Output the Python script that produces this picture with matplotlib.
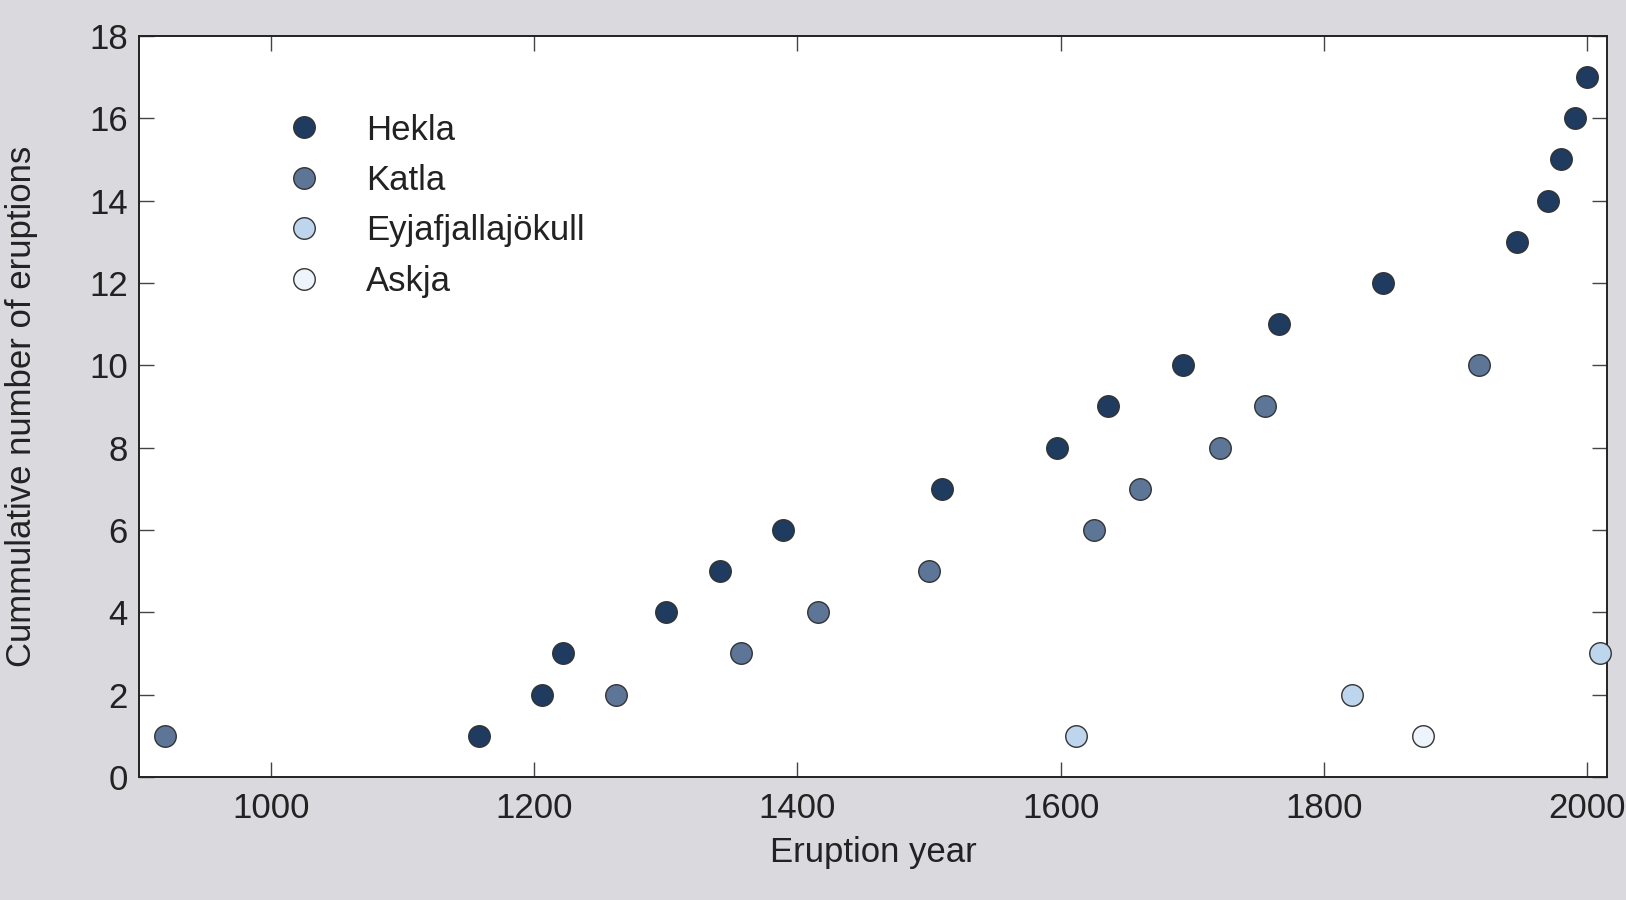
import matplotlib
matplotlib.use("Agg")
from matplotlib import pyplot as plt

hekla_years = [1158, 1206, 1222, 1300, 1341, 1389, 1510, 1597, 1636, 1693, 1766, 1845,
               1947, 1970, 1980, 1991, 2000]
katla_years = [920, 1262, 1357, 1416, 1500, 1625, 1660, 1721, 1755, 1918]
eyja_years = [1612, 1821, 2010]
askja_years = [1875]

series = [
    ('Hekla', hekla_years, '#1f3b60'),
    ('Katla', katla_years, '#5d7698'),
    ('Eyjafjallajökull', eyja_years, '#bed5ee'),
    ('Askja', askja_years, '#eef4fc'),
]

plt.rcParams['font.family'] = ['Liberation Sans', 'DejaVu Sans']
plt.rcParams['text.color'] = '#222222'
plt.rcParams['axes.labelcolor'] = '#222222'

fig = plt.figure(figsize=(16.26, 9), dpi=100, facecolor='#d9d9de')
ax = fig.add_axes([0.0855, 0.1367, 0.9028, 0.8233])
ax.set_facecolor('white')

for name, years, color in series:
    counts = list(range(1, len(years) + 1))
    ax.plot(years, counts, 'o', color=color, markersize=15.5, markeredgecolor='#333333',
            markeredgewidth=1.0, label=name, clip_on=False, zorder=3)

ax.set_xlim(900, 2015)
ax.set_ylim(0, 18)
ax.set_xticks([1000, 1200, 1400, 1600, 1800, 2000])
ax.set_yticks(range(0, 19, 2))
ax.tick_params(direction='in', length=10.5, width=1.0, color='#444444', top=True, right=True,
               labelsize=25, labelcolor='#222222', pad=8)
ax.tick_params(axis='x', pad=11)
for s in ax.spines.values():
    s.set_linewidth(1.4)
    s.set_color('#222222')

ax.set_xlabel('Eruption year', fontsize=25, labelpad=8)
ax.set_ylabel('Cummulative number of eruptions', fontsize=25, labelpad=37)

ax.legend(loc='upper left', bbox_to_anchor=(0.079, 0.914), frameon=False, fontsize=25,
          handletextpad=0.8, labelspacing=0.5, borderaxespad=0)

fig.savefig('out.png', dpi=100, facecolor=fig.get_facecolor())
